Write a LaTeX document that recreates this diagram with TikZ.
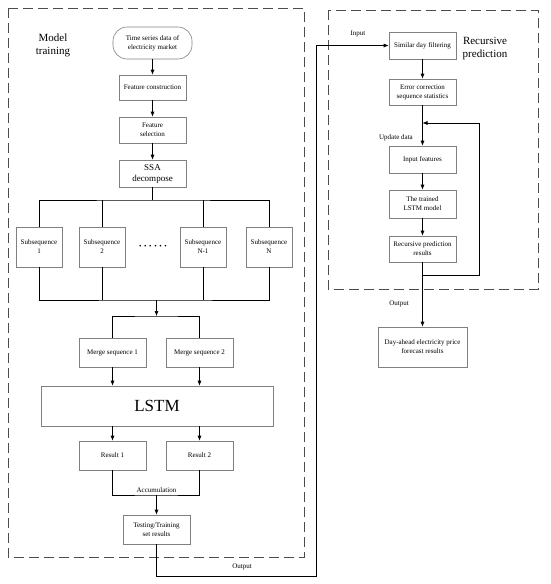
\documentclass[tikz,border=0pt]{standalone}
\usepackage{fontspec}
\setmainfont{Liberation Serif}
\usetikzlibrary{arrows.meta}

\begin{document}
\begin{tikzpicture}[x=1pt,y=-1pt,line width=0.6pt,
  blk/.style={draw=black!50,align=center,inner sep=1pt,minimum width=67pt,minimum height=27pt,font=\fontsize{7}{9}\selectfont},
  lbl/.style={inner sep=1pt,font=\fontsize{7}{9}\selectfont},
  title/.style={align=center,inner sep=1pt,font=\fontsize{11}{13}\selectfont},
  group/.style={draw=black!70,line width=0.9pt,dash pattern=on 10pt off 5pt},
  arr/.style={-{Latex[length=5pt,width=4pt]}}]
\useasboundingbox (0,0) rectangle (550,584);
% dashed frames
\draw[group] (8,8) rectangle (304,557);
\draw[group] (328,10) rectangle (538,289);
\node[title] (mt) at (53,45.5) {Model\\training};
\node[title] (rp) at (485,48.5) {Recursive\\prediction};
% model training
\node[blk,minimum width=79pt,minimum height=32pt,rounded corners=14pt] (data) at (152.5,43) {Time series data of\\electricity market};
\node[blk,minimum height=25pt] (fcon) at (152.5,87.5) {Feature construction};
\node[blk,minimum height=26pt] (fsel) at (152.5,130) {Feature\\selection};
\node[blk,font=\fontsize{9}{11}\selectfont] (ssa) at (152.5,173.5) {SSA\\decompose};
\draw[arr] (data) -- (fcon);
\draw[arr] (fcon) -- (fsel);
\draw[arr] (fsel) -- (ssa);
\node[blk,minimum width=46pt,minimum height=40pt] (sub1) at (39,247) {Subsequence\\1};
\node[blk,minimum width=46pt,minimum height=40pt] (sub2) at (102,247) {Subsequence\\2};
\node[blk,minimum width=46pt,minimum height=40pt] (subm) at (203,247) {Subsequence\\N-1};
\node[blk,minimum width=46pt,minimum height=40pt] (subn) at (269,247) {Subsequence\\N};
\node[lbl,font=\fontsize{7}{7}\selectfont] (dots) at (153,247) {\textbullet\hspace{2.6pt}\textbullet\hspace{2.6pt}\textbullet\hspace{2.6pt}\textbullet\hspace{2.6pt}\textbullet\hspace{2.6pt}\textbullet};
\coordinate (split) at (152.5,200);
\coordinate (join) at (156.5,300);
\coordinate (fork) at (156.5,316);
\draw (ssa) -- (split);
\draw (sub1.north) |- (split) -| (subn.north);
\draw (sub2.north) -- (sub2.north |- split);
\draw (subm.north) -- (subm.north |- split);
\draw (sub1.south) |- (join) -| (subn.south);
\draw (sub2.south) -- (sub2.south |- join);
\draw (subm.south) -- (subm.south |- join);
\draw[arr] (join) -- (fork);
\node[blk,minimum height=29pt] (mrg1) at (112.5,352.5) {Merge sequence 1};
\node[blk,minimum height=29pt] (mrg2) at (199.5,352.5) {Merge sequence 2};
\draw (mrg1.north) |- (fork) -| (mrg2.north);
\node[blk,minimum width=232pt,minimum height=40pt,font=\fontsize{17}{20}\selectfont] (lstm) at (157,406) {LSTM};
\draw[arr] (mrg1) -- (mrg1 |- lstm.north);
\draw[arr] (mrg2) -- (mrg2 |- lstm.north);
\node[blk,minimum height=29pt] (res1) at (112.5,455.5) {Result 1};
\node[blk,minimum height=29pt] (res2) at (199.5,455.5) {Result 2};
\draw[arr] (res1 |- lstm.south) -- (res1);
\draw[arr] (res2 |- lstm.south) -- (res2);
\coordinate (acc) at (156.5,495);
\draw (res1.south) |- (acc) -| (res2.south);
\node[lbl,above=1pt] (acclbl) at (acc) {Accumulation};
\node[blk,minimum height=29pt] (test) at (156.5,529.5) {Testing/Training\\set results};
\draw[arr] (acc) -- (test);
% link to recursive prediction
\node[blk] (sim) at (422.5,45.5) {Similar day filtering};
\coordinate (turn) at (316,576);
\draw[arr] (test.south) |- (turn) |- (sim.west);
\node[lbl] (outl) at (242,567) {Output};
\node[lbl] (inl) at (358,34) {Input};
% recursive prediction
\node[blk,minimum height=26pt] (err) at (422.5,92) {Error correction\\sequence statistics};
\node[blk] (inp) at (422.5,159.5) {Input features};
\node[blk,minimum height=28pt] (trn) at (422.5,204) {The trained\\LSTM model};
\node[blk,minimum height=26pt] (rec) at (422.5,249) {Recursive prediction\\results};
\node[blk,minimum width=89pt,minimum height=40pt] (fcst) at (422.5,347) {Day-ahead electricity price\\forecast results};
\draw[arr] (sim) -- (err);
\draw[arr] (err) -- (inp);
\draw[arr] (inp) -- (trn);
\draw[arr] (trn) -- (rec);
\draw[arr] (rec) -- (fcst);
\coordinate (fb) at (422.5,123);
\coordinate (loopb) at (422.5,275);
\coordinate (loopr) at (479,123);
\draw[arr] (loopb) -| (loopr) -- (fb);
\node[lbl] (upd) at (396,138) {Update data};
\node[lbl] (out2) at (399,304) {Output};
\end{tikzpicture}
\end{document}
